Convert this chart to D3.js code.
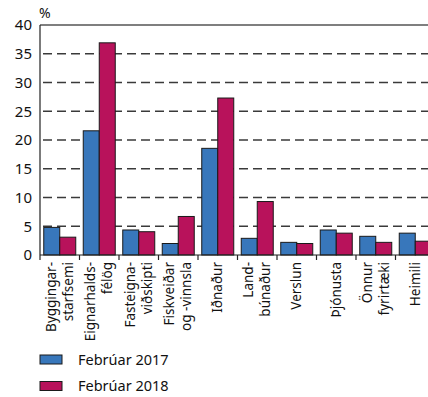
<!DOCTYPE html>
<html><head><meta charset="utf-8">
<script src="https://cdn.jsdelivr.net/npm/d3@7"></script>
<style>body{margin:0;background:#fff}svg{display:block;font-family:"Noto Sans",sans-serif}</style>
</head><body><svg id="c" width="428" height="397"></svg>
<script>
const categories = [["Byggingar-","starfsemi"],["Eignarhalds-","félög"],["Fasteigna-","viðskipti"],["Fiskveiðar","og -vinnsla"],["Iðnaður"],["Land-","búnaður"],["Verslun"],["Þjónusta"],["Önnur","fyrirtæki"],["Heimili"]];
const feb2017 = [4.8, 21.6, 4.35, 2.0, 18.55, 2.9, 2.2, 4.35, 3.25, 3.8];
const feb2018 = [3.1, 36.9, 4.05, 6.7, 27.3, 9.3, 2.0, 3.8, 2.2, 2.4];
const seriesNames = ["Febrúar 2017","Febrúar 2018"];
const colors = ["#3877bb","#b8125b"];
const yTicks = [0,5,10,15,20,25,30,35,40];

const svg = d3.select("#c");
const L = 40, R = 435, T = 25, B = 255;
const x = d3.scaleBand().domain(d3.range(categories.length)).range([L, R]).paddingInner(0).paddingOuter(0);
const y = d3.scaleLinear().domain([0, 40]).range([B, T]);
const bw = 16;

// gridlines
svg.append("g").selectAll("line").data(yTicks.filter(d => d > 0 && d < 40)).join("line")
  .attr("x1", L).attr("x2", 428).attr("y1", d => y(d)).attr("y2", d => y(d))
  .attr("stroke", "#3a3a3a").attr("stroke-width", 1.3).attr("stroke-dasharray", "9,5").attr("stroke-dashoffset", -3);
// top line
svg.append("line").attr("x1", L).attr("x2", 428).attr("y1", y(40)).attr("y2", y(40)).attr("stroke", "#555").attr("stroke-width", 1.3);

// bars
const data = categories.map((c, i) => [feb2017[i], feb2018[i]]);
const g = svg.append("g");
data.forEach((vals, i) => {
  vals.forEach((v, s) => {
    const cx = x(i) + x.bandwidth() / 2;
    g.append("rect").attr("x", cx - bw + s * bw).attr("y", y(v)).attr("width", bw).attr("height", y(0) - y(v))
      .attr("fill", colors[s]).attr("stroke", "#1a1a1a").attr("stroke-width", 1);
  });
});

// y axis
svg.append("line").attr("x1", L).attr("x2", L).attr("y1", T).attr("y2", B).attr("stroke", "#222").attr("stroke-width", 1.2);
svg.append("g").selectAll("text").data(yTicks).join("text")
  .attr("x", 32).attr("y", d => y(d)).attr("dy", "0.36em").attr("text-anchor", "end")
  .attr("font-size", 15).attr("fill", "#111").text(d => d);
svg.append("text").attr("x", 39).attr("y", 18).attr("font-size", 14).attr("fill", "#111").text("%");

// x axis
svg.append("line").attr("x1", L).attr("x2", 428).attr("y1", B).attr("y2", B).attr("stroke", "#222").attr("stroke-width", 1.2);
svg.append("g").selectAll("line").data(d3.range(categories.length + 1)).join("line")
  .attr("x1", i => L + i * x.bandwidth()).attr("x2", i => L + i * x.bandwidth())
  .attr("y1", B).attr("y2", B + 5).attr("stroke", "#222").attr("stroke-width", 1.2);

// x labels
const lh = 17;
categories.forEach((lines, i) => {
  const cx = x(i) + x.bandwidth() / 2;
  const n = lines.length;
  lines.forEach((t, j) => {
    const off = (j - (n - 1) / 2) * lh;
    svg.append("text").attr("transform", `translate(${cx + off},262) rotate(-90)`)
      .attr("text-anchor", "end").attr("dy", "0.35em").attr("font-size", 13.5).attr("fill", "#111").text(t);
  });
});

// legend
seriesNames.forEach((n, s) => {
  const ly = 355 + s * 26.5;
  svg.append("rect").attr("x", 40).attr("y", ly).attr("width", 22).attr("height", 9)
    .attr("fill", colors[s]).attr("stroke", "#1a1a1a").attr("stroke-width", 1);
  svg.append("text").attr("x", 78).attr("y", ly + 4.5).attr("dy", "0.36em").attr("font-size", 14.5).attr("fill", "#111").text(n);
});
</script></body></html>
